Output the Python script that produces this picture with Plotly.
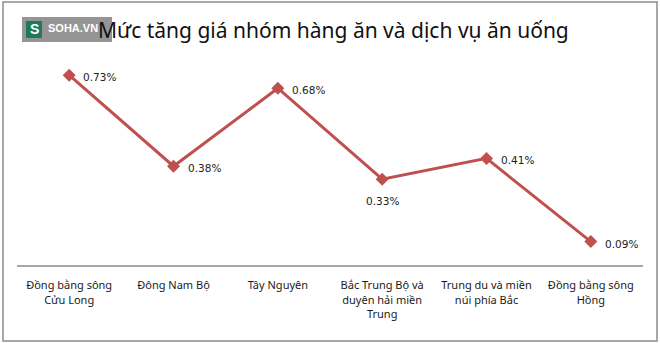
import plotly.graph_objects as go

categories = ["Đồng bằng sông<br>Cửu Long", "Đông Nam Bộ", "Tây Nguyên",
              "Bắc Trung Bộ và<br>duyên hải miền<br>Trung", "Trung du và miền<br>núi phía Bắc",
              "Đồng bằng sông<br>Hồng"]
values = [0.73, 0.38, 0.68, 0.33, 0.41, 0.09]
label_below = [False, False, False, True, False, False]
title = "Mức tăng giá nhóm hàng ăn và dịch vụ ăn uống"

W, H = 660, 343
L, R, T, B = 17, 17, 57, 78
pw, ph = W - L - R, H - T - B

def px(x):
    return (x - L) / pw

def py(y):
    return (H - B - y) / ph

fig = go.Figure()
fig.add_trace(go.Scatter(
    x=categories, y=values, mode="lines+markers",
    line=dict(color="#C0504D", width=3),
    marker=dict(symbol="diamond", size=10, color="#C0504D"),
    cliponaxis=False,
))

for c, v, below in zip(categories, values, label_below):
    fig.add_annotation(
        x=c, y=v, xref="x", yref="y", text=f"{v:.2f}%", showarrow=False,
        xanchor="center" if below else "left", yanchor="middle",
        xshift=0 if below else 12, yshift=-22 if below else -2,
        font=dict(family="DejaVu Sans", size=10.5, color="#222222"),
    )

fig.update_layout(
    width=W, height=H,
    margin=dict(l=L, r=R, t=T, b=B),
    paper_bgcolor="white", plot_bgcolor="white",
    showlegend=False,
    xaxis=dict(range=[-0.5, len(categories) - 0.5], showline=True, linecolor="#A6A6A6", linewidth=2,
               showgrid=False, ticks="", ticklabelstandoff=9,
               tickfont=dict(family="Noto Sans", size=11, color="#1a1a1a"),
               fixedrange=True),
    yaxis=dict(range=[0, 0.8], visible=False, showgrid=False, fixedrange=True),
    shapes=[
        dict(type="rect", xref="paper", yref="paper", x0=px(3), x1=px(657), y0=py(341), y1=py(2),
             line=dict(color="#8C8C8C", width=1.5), fillcolor="rgba(0,0,0,0)", layer="below"),
    ],
)

fig.add_annotation(text=title, xref="paper", yref="paper", x=px(96), y=py(30), showarrow=False,
                   xanchor="left", yanchor="middle",
                   font=dict(family="Noto Sans", size=21, color="#111111"))

# SOHA.VN watermark logo
fig.add_shape(type="rect", xref="paper", yref="paper", x0=px(22), x1=px(112), y0=py(42), y1=py(17),
              line=dict(width=0), fillcolor="rgba(140,140,140,0.92)")
fig.add_shape(type="rect", xref="paper", yref="paper", x0=px(26), x1=px(42), y0=py(38), y1=py(21),
              line=dict(width=0), fillcolor="#1E7A5A")
fig.add_annotation(text="<b>S</b>", xref="paper", yref="paper", x=px(34), y=py(29.5), showarrow=False,
                   xanchor="center", yanchor="middle",
                   font=dict(family="Liberation Sans", size=14, color="white"))
fig.add_annotation(text="<b>SOHA.VN</b>", xref="paper", yref="paper", x=px(46), y=py(28), showarrow=False,
                   xanchor="left", yanchor="middle",
                   font=dict(family="Liberation Sans", size=11, color="white"))

fig.write_html("out.html")
